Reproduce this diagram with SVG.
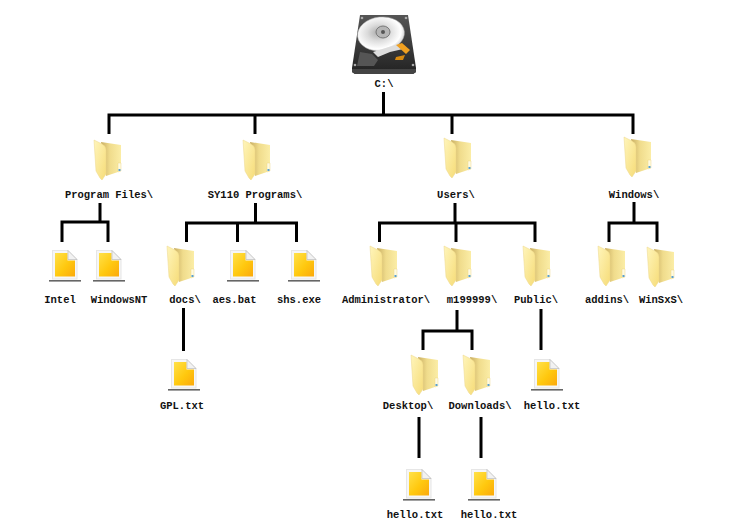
<svg xmlns="http://www.w3.org/2000/svg" width="747" height="526" viewBox="0 0 747 526">
<style>
text{font-family:"Liberation Mono","Courier New",monospace;font-size:10.5px;font-weight:bold;fill:#111;text-anchor:middle}
#connectors path{fill:none;stroke:#000;stroke-width:3}
</style>
<defs>
<linearGradient id="fb" x1="0" y1="0" x2="1" y2="0"><stop offset="0" stop-color="#c9ae62"/><stop offset="0.45" stop-color="#f0dc8c"/><stop offset="1" stop-color="#fbeda6"/></linearGradient>
<linearGradient id="ff" x1="0" y1="0" x2="1" y2="1"><stop offset="0" stop-color="#fff5bb"/><stop offset="1" stop-color="#f6dc78"/></linearGradient>
<linearGradient id="pg" x1="0" y1="0" x2="1" y2="1"><stop offset="0" stop-color="#ffe14a"/><stop offset=".55" stop-color="#ffc80e"/><stop offset="1" stop-color="#fba90c"/></linearGradient>
<radialGradient id="pl" cx="0.45" cy="0.45" r="0.6"><stop offset="0" stop-color="#aaa"/><stop offset="0.4" stop-color="#dcdcdc"/><stop offset="0.8" stop-color="#fff"/><stop offset="1" stop-color="#c8c8c8"/></radialGradient>
<linearGradient id="hb" x1="0" y1="0" x2="0" y2="1"><stop offset="0" stop-color="#555"/><stop offset="1" stop-color="#222"/></linearGradient>
<g id="folder">
<path d="M7 2L27 5V31L12 36Z" fill="url(#fb)"/>
<path d="M24 23H27V31L24 32Z" fill="#fffbe0" stroke="#ead27c" stroke-width=".4"/>
<rect x="24.500" y="29" width="2" height="2" fill="#5aa0d0"/>
<path d="M0 0L8 4Q12 6 12 10V34L8 40L6 38L2 31Z" fill="url(#ff)" stroke="#ecd688" stroke-width=".5"/>
</g>
<g id="file">
<rect x="0" y="30" width="32" height="1.600" fill="#666"/>
<path d="M3 0H19L28.500 9.500V29.500H3Z" fill="#e6e6e6"/>
<path d="M4 1H18.500L27.500 10V28.500H4Z" fill="#f6f6f6"/>
<path d="M6 3H18.500V10.500H26V26.500H6Z" fill="url(#pg)"/>
<path d="M19 .5V9.500H28Z" fill="#f2f2f2" stroke="#b4b4b4" stroke-width=".6"/>
</g>
</defs>
<rect width="747" height="526" fill="#fff"/>
<g id="connectors">
<path d="M383.500 92V115M109 134V115H633V134M255 115V134M452 115V134"/>
<path d="M100 203V222M62 242V222H108V242"/>
<path d="M255.500 203V223M186.500 242V223H296.500V242M237.500 223V242"/>
<path d="M455 203V223M379.500 242V223H535V242M456 223V242"/>
<path d="M634 202V223M609 242V223H657V242"/>
<path d="M183.500 308V351"/>
<path d="M457 310V331M423 350V331H472V350"/>
<path d="M541 309V350"/>
<path d="M419 417V458"/>
<path d="M481 417V458"/>
</g>
<g id="root">
<path d="M360 15H408L416 68V72L413 74H355L352 72V68Z" fill="url(#hb)"/>
<path d="M352 69H416V72L413 74H355L352 72Z" fill="#444"/>
<ellipse cx="381" cy="34" rx="23.500" ry="17" fill="url(#pl)" stroke="#aaa" stroke-width=".5" transform="rotate(-6 381 34)"/>
<ellipse cx="383" cy="32" rx="7" ry="6" fill="#b5b5b5" stroke="#777"/>
<circle cx="383" cy="32" r="2" fill="#555"/>
<path d="M360 52L372 54L378 60L374 66H357Z" fill="#555"/>
<path d="M373 52L398 44L403 49L390 52L378 57Z" fill="#ddd"/>
<path d="M396 45L402 43L410 50L406 54Z" fill="#f0a020"/>
<path d="M396 57L405 55L403 60L395 60Z" fill="#d88a10"/>
<circle cx="362" cy="18" r="1.300" fill="#aaa"/><circle cx="406" cy="18" r="1.300" fill="#aaa"/>
<circle cx="355" cy="65" r="1.300" fill="#aaa"/><circle cx="413" cy="65" r="1.300" fill="#aaa"/>
<text x="384" y="87">C:\</text>
</g>
<g id="program-files"><use href="#folder" x="94" y="140"/><text x="109" y="198">Program Files\</text></g>
<g id="sy110"><use href="#folder" x="243" y="140"/><text x="255" y="198">SY110 Programs\</text></g>
<g id="users"><use href="#folder" x="444" y="138"/><text x="456" y="198">Users\</text></g>
<g id="windows"><use href="#folder" x="624" y="137"/><text x="634" y="198">Windows\</text></g>
<g id="intel"><use href="#file" x="49" y="250"/><text x="60" y="303">Intel</text></g>
<g id="windowsnt"><use href="#file" x="93" y="250"/><text x="119" y="303">WindowsNT</text></g>
<g id="docs"><use href="#folder" x="167" y="246"/><text x="185" y="303">docs\</text></g>
<g id="aes"><use href="#file" x="227" y="250"/><text x="234.500" y="303">aes.bat</text></g>
<g id="shs"><use href="#file" x="288" y="250"/><text x="299" y="303">shs.exe</text></g>
<g id="administrator"><use href="#folder" x="370" y="246"/><text x="386" y="303">Administrator\</text></g>
<g id="m199999"><use href="#folder" x="444" y="246"/><text x="472" y="303">m199999\</text></g>
<g id="public"><use href="#folder" x="523" y="246"/><text x="536" y="303">Public\</text></g>
<g id="addins"><use href="#folder" x="598" y="246"/><text x="607" y="303">addins\</text></g>
<g id="winsxs"><use href="#folder" x="647" y="247"/><text x="661" y="303">WinSxS\</text></g>
<g id="gpl"><use href="#file" x="168" y="359"/><text x="182" y="409">GPL.txt</text></g>
<g id="desktop"><use href="#folder" x="411" y="355"/><text x="408" y="409">Desktop\</text></g>
<g id="downloads"><use href="#folder" x="463" y="355"/><text x="480" y="409">Downloads\</text></g>
<g id="hello-public"><use href="#file" x="531" y="359"/><text x="552" y="409">hello.txt</text></g>
<g id="hello-desktop"><use href="#file" x="403" y="469"/><text x="415" y="518">hello.txt</text></g>
<g id="hello-downloads"><use href="#file" x="468" y="469"/><text x="489" y="518">hello.txt</text></g>
</svg>
